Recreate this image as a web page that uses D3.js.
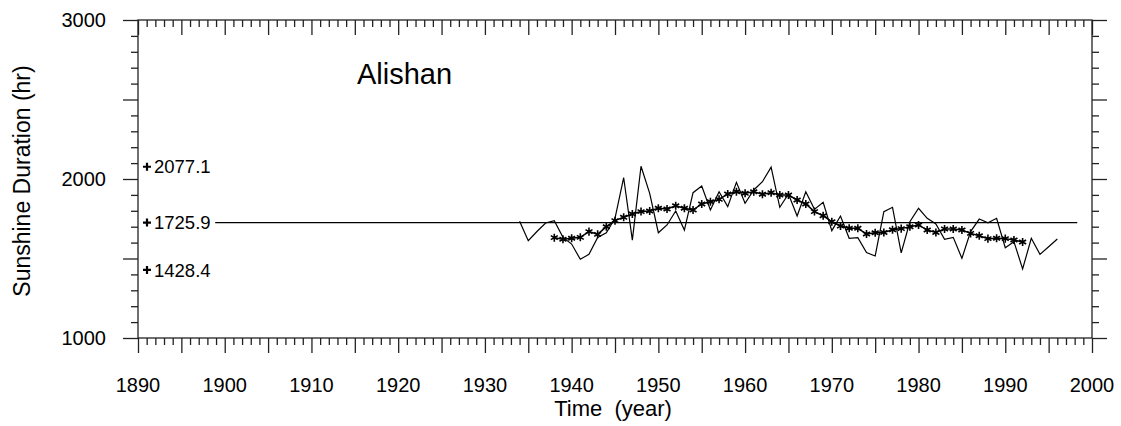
<!DOCTYPE html>
<html lang="en">
<head>
    <meta charset="UTF-8">
    <title>Alishan Sunshine Duration</title>
    <script src="https://cdnjs.cloudflare.com/ajax/libs/d3/7.8.5/d3.min.js"></script>
    <style>
        body {
            margin: 0;
            background: white;
        }

        svg {
            display: block;
            font-family: Arial, 'Liberation Sans', sans-serif;
        }

        .tick-label {
            font-size: 20px;
            fill: black;
        }
    </style>
</head>
<body>
    <div id="chart"></div>

    <script>
        // Annual sunshine duration (hr), 1934-1996
        const rawStart = 1934;
        const rawValues = [
            1735, 1612, 1670, 1723, 1738, 1633, 1591, 1495, 1526, 1633,
            1662, 1753, 2008, 1616, 2080, 1910, 1662, 1711, 1799, 1679,
            1914, 1956, 1805, 1920, 1826, 1979, 1847, 1931, 1983, 2074,
            1822, 1906, 1767, 1920, 1809, 1853, 1675, 1767, 1627, 1631,
            1537, 1516, 1794, 1822, 1535, 1731, 1816, 1753, 1717, 1621,
            1633, 1501, 1669, 1748, 1725, 1753, 1568, 1606, 1434, 1627,
            1526, 1574, 1623
        ];

        // Smoothed series (asterisks), 1938-1992
        const smoothStart = 1938;
        const smoothValues = [
            1631, 1621, 1627, 1633, 1669, 1652, 1700, 1738, 1759, 1780,
            1795, 1799, 1816, 1811, 1832, 1816, 1805, 1843, 1857, 1872,
            1906, 1920, 1910, 1920, 1904, 1914, 1899, 1899, 1868, 1843,
            1795, 1769, 1731, 1704, 1690, 1690, 1654, 1662, 1664, 1681,
            1688, 1700, 1711, 1679, 1664, 1686, 1686, 1679, 1658, 1643,
            1625, 1627, 1625, 1616, 1604
        ];

        // Reference levels marked on the left
        const markLevels = [2077.1, 1725.9, 1428.4];
        const meanLevel = 1725.9;
        const meanRange = [1898.9, 1998.3];

        const xTickLabels = [1890, 1900, 1910, 1920, 1930, 1940, 1950, 1960, 1970, 1980, 1990, 2000];
        const yTickLabels = [1000, 2000, 3000];

        const rawData = rawValues.map((v, i) => ({ year: rawStart + i, value: v }));
        const smoothData = smoothValues.map((v, i) => ({ year: smoothStart + i, value: v }));

        const width = 1121;
        const height = 426;
        const plotLeft = 138, plotRight = 1092, plotTop = 20, plotBottom = 338;

        const svg = d3.select("#chart")
            .append("svg")
            .attr("width", width)
            .attr("height", height);

        svg.append("rect").attr("width", width).attr("height", height).attr("fill", "white");

        const x = d3.scaleLinear().domain([1890, 2000]).range([plotLeft, plotRight]);
        const y = d3.scaleLinear().domain([1000, 3000]).range([plotBottom, plotTop]);

        const minorX = d3.range(1890, 2001, 1);
        const minorY = d3.range(1000, 3001, 100);

        // Axes: ticks are long every 5 years / 500 hr, short otherwise
        const xLen = d => (d % 5 === 0 ? 15 : 7);
        const yLen = d => (d % 500 === 0 ? 15 : 7);

        const bottomAxis = d3.axisBottom(x).tickValues(minorX).tickFormat("").tickSizeOuter(0);
        const topAxis = d3.axisBottom(x).tickValues(minorX).tickFormat("").tickSizeOuter(0);
        const leftAxis = d3.axisLeft(y).tickValues(minorY).tickFormat("").tickSizeOuter(0);
        const rightAxis = d3.axisRight(y).tickValues(minorY).tickFormat("").tickSizeOuter(0);

        function styleAxis(g, lenFn) {
            g.select(".domain").remove();
            g.selectAll(".tick line")
                .attr("stroke", "#222")
                .attr("stroke-width", 1.3);
            g.selectAll(".tick line").each(function (d) {
                const l = lenFn(d);
                const el = d3.select(this);
                if (el.attr("x2") !== null && +el.attr("x2") !== 0) el.attr("x2", +el.attr("x2") > 0 ? l : -l);
                if (el.attr("y2") !== null && +el.attr("y2") !== 0) el.attr("y2", +el.attr("y2") > 0 ? l : -l);
            });
        }

        svg.append("g").attr("transform", `translate(0,${plotBottom})`).call(bottomAxis).call(g => styleAxis(g, xLen));
        svg.append("g").attr("transform", `translate(0,${plotTop})`).call(topAxis).call(g => styleAxis(g, xLen));
        svg.append("g").attr("transform", `translate(${plotLeft},0)`).call(leftAxis).call(g => styleAxis(g, yLen));
        svg.append("g").attr("transform", `translate(${plotRight},0)`).call(rightAxis).call(g => styleAxis(g, yLen));

        // Frame
        svg.append("rect")
            .attr("x", plotLeft).attr("y", plotTop)
            .attr("width", plotRight - plotLeft).attr("height", plotBottom - plotTop)
            .attr("fill", "none")
            .attr("stroke", "#222")
            .attr("stroke-width", 1.3);

        // Tick labels
        svg.append("g").selectAll("text")
            .data(xTickLabels)
            .join("text")
            .attr("class", "tick-label")
            .attr("x", d => x(d))
            .attr("y", 392)
            .attr("text-anchor", "middle")
            .text(d => d);

        svg.append("g").selectAll("text")
            .data(yTickLabels)
            .join("text")
            .attr("class", "tick-label")
            .attr("x", 106)
            .attr("y", d => y(d))
            .attr("dy", "0.35em")
            .attr("text-anchor", "end")
            .text(d => d);

        // Axis titles
        svg.append("text")
            .attr("x", 613)
            .attr("y", 416)
            .attr("text-anchor", "middle")
            .attr("font-size", 22)
            .attr("xml:space", "preserve")
            .text("Time  (year)");

        svg.append("text")
            .attr("transform", `translate(30,181) rotate(-90)`)
            .attr("text-anchor", "middle")
            .attr("font-size", 23)
            .text("Sunshine Duration (hr)");

        // Station name
        svg.append("text")
            .attr("x", 357)
            .attr("y", 84)
            .attr("font-size", 29)
            .text("Alishan");

        // Mean line
        svg.append("line")
            .attr("x1", x(meanRange[0])).attr("x2", x(meanRange[1]))
            .attr("y1", y(meanLevel)).attr("y2", y(meanLevel))
            .attr("stroke", "black")
            .attr("stroke-width", 1.2);

        // Level marks
        const marks = svg.append("g").selectAll("g")
            .data(markLevels)
            .join("g")
            .attr("transform", d => `translate(147,${y(d)})`);

        marks.append("path")
            .attr("d", "M-4,0H4M0,-4V4")
            .attr("stroke", "black")
            .attr("stroke-width", 2.2);

        marks.append("text")
            .attr("x", 7)
            .attr("dy", "0.36em")
            .attr("font-size", 18.5)
            .text(d => d.toFixed(1));

        // Raw annual series
        const line = d3.line().x(d => x(d.year)).y(d => y(d.value));

        svg.append("path")
            .datum(rawData)
            .attr("d", line)
            .attr("fill", "none")
            .attr("stroke", "black")
            .attr("stroke-width", 1.2);

        // Smoothed series with asterisks
        svg.append("path")
            .datum(smoothData)
            .attr("d", line)
            .attr("fill", "none")
            .attr("stroke", "black")
            .attr("stroke-width", 1.5);

        svg.append("g").selectAll("path")
            .data(smoothData)
            .join("path")
            .attr("transform", d => `translate(${x(d.year)},${y(d.value)})`)
            .attr("d", d3.symbol().type(d3.symbolAsterisk).size(45))
            .attr("fill", "none")
            .attr("stroke", "black")
            .attr("stroke-width", 1.6);
    </script>
</body>
</html>
